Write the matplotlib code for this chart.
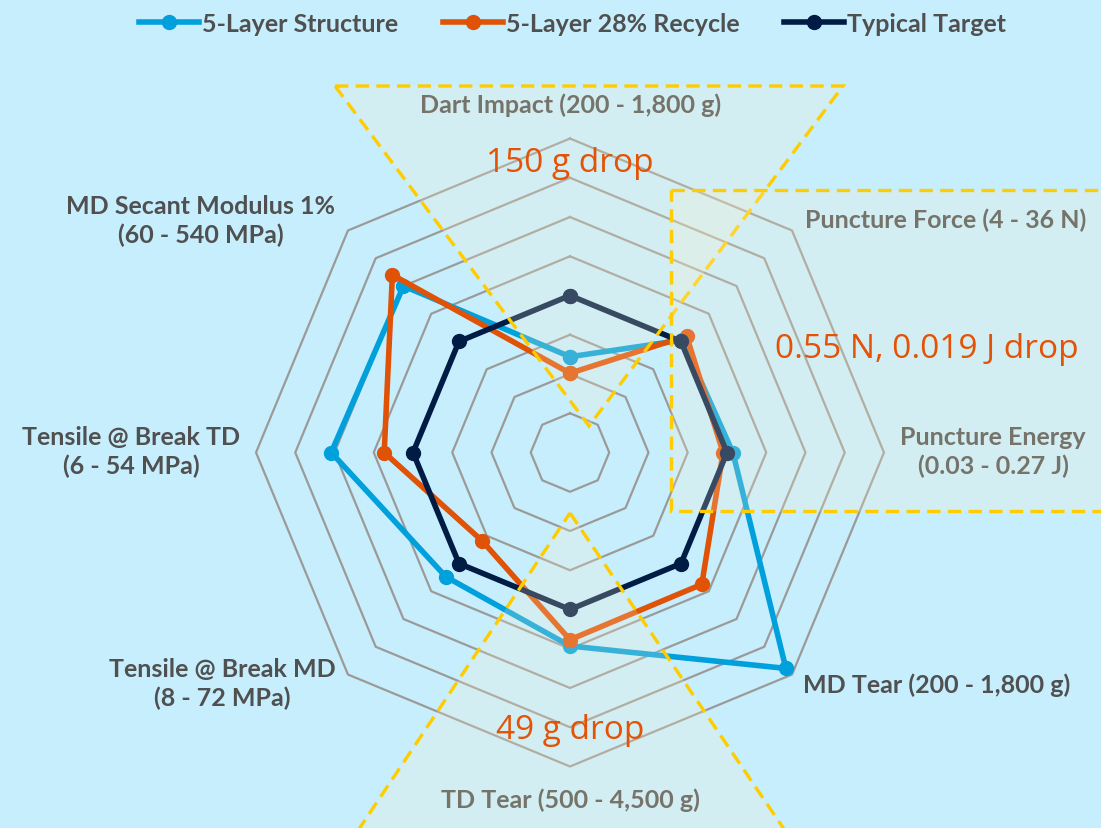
import matplotlib
matplotlib.use("Agg")
import matplotlib.pyplot as plt
from matplotlib.patches import Polygon
import numpy as np

# axes, clockwise from the top
axis_labels = [
    "Dart Impact (200 - 1,800 g)",
    "Puncture Force (4 - 36 N)",
    "Puncture Energy\n(0.03 - 0.27 J)",
    "MD Tear (200 - 1,800 g)",
    "TD Tear (500 - 4,500 g)",
    "Tensile @ Break MD\n(8 - 72 MPa)",
    "Tensile @ Break TD\n(6 - 54 MPa)",
    "MD Secant Modulus 1%\n(60 - 540 MPa)",
]
axis_min = [200, 4, 0.03, 200, 500, 8, 6, 60]
axis_max = [1800, 36, 0.27, 1800, 4500, 72, 54, 540]

structure = [688, 20.2, 0.1545, 1756, 2965, 43.8, 42.5, 420]
recycle = [604, 20.8, 0.147, 1150, 2885, 33.4, 34.4, 444]
target = [1000, 20, 0.15, 1000, 2500, 40, 30, 300]

series_names = ["5-Layer Structure", "5-Layer 28% Recycle", "Typical Target"]
series_colors = ["#00A0DC", "#E05206", "#001B44"]

notes = ["150 g drop", "0.55 N, 0.019 J drop", "49 g drop"]

W, H = 1101, 829
BG = "#C6EEFD"
N_RINGS = 8


def px(x, y):
    return x / W, 1 - y / H


def scale(vals):
    lo = np.array(axis_min)
    hi = np.array(axis_max)
    return (np.array(vals) - lo) / (hi - lo) * N_RINGS


fig = plt.figure(figsize=(W / 100, H / 100), dpi=100, facecolor=BG)
ax = fig.add_axes([0.2325, 0.0742, 0.5704, 0.7575], projection="polar")
ax.set_facecolor("none")
ax.set_theta_zero_location("N")
ax.set_theta_direction(-1)
ax.set_ylim(0, N_RINGS)
ax.grid(False)
ax.spines["polar"].set_visible(False)
ax.set_xticks([])
ax.set_yticks([])

n = len(axis_labels)
angles = np.linspace(0, 2 * np.pi, n, endpoint=False)
closed = np.append(angles, angles[0])

# octagon grid
for k in range(1, N_RINGS + 1):
    ax.plot(closed, [k] * (n + 1), color="#9C9A98", lw=1.6, clip_on=False, zorder=1)

for vals, name, col in zip([structure, recycle, target], series_names, series_colors):
    r = scale(vals)
    ax.plot(closed, np.append(r, r[0]), color=col, lw=4, marker="o", ms=10,
            label=name, clip_on=False, zorder=3)

# axis labels (pixel centres)
label_pos = [(571, 105), (946, 220), (993, 452), (937, 685),
             (570, 800), (222, 684), (131, 452), (201, 221)]
for text, (x, y) in zip(axis_labels, label_pos):
    fig.text(*px(x, y), text, ha="center", va="center", fontsize=18,
             fontweight="bold", color="#505050", family="Lato",
             linespacing=1.32, zorder=1)

# highlighted areas
boxes = [
    [(335, 87), (843, 87), (589, 427)],
    [(671, 191), (1110, 191), (1110, 512), (671, 512)],
    [(570, 514), (788, 836), (355, 836)],
]
for pts in boxes:
    fig.add_artist(Polygon([px(x, y) for x, y in pts], closed=True,
                           transform=fig.transFigure, facecolor=(1, 0.95, 0.8, 0.22),
                           edgecolor="#FFCC00", lw=2.4, linestyle=(0, (4, 2.2)),
                           zorder=2))

note_pos = [(570, 163), (927, 350), (570, 731)]
for text, (x, y) in zip(notes, note_pos):
    fig.text(*px(x, y), text, ha="center", va="center", fontsize=24,
             color="#E35205", family="Open Sans", zorder=3)

leg = fig.legend(loc="upper center", bbox_to_anchor=(0.52, 1.012), ncol=3,
                 frameon=False, handlelength=2.4, handletextpad=0.1,
                 columnspacing=1.8, prop={"family": "Lato", "weight": "bold", "size": 18})
for t in leg.get_texts():
    t.set_color("#505050")

fig.savefig("out.png", dpi=100, facecolor=BG)
